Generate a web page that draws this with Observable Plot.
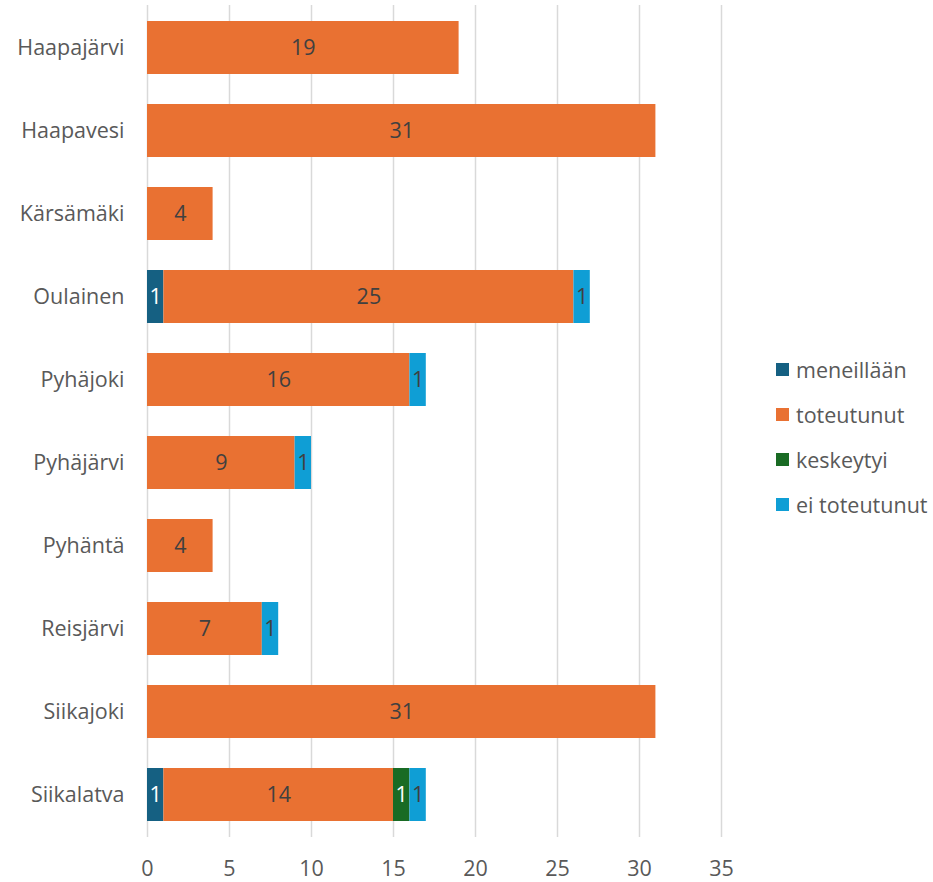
<!DOCTYPE html>
<html>
<head>
<meta charset="utf-8">
<script src="https://cdn.jsdelivr.net/npm/d3@7"></script>
<script src="https://cdn.jsdelivr.net/npm/@observablehq/plot@0.6"></script>
<style>
  html, body { margin: 0; padding: 0; background: #fff; }
  #wrap { position: relative; width: 933px; height: 882px; font-family: "Open Sans", sans-serif; }
  #legend { position: absolute; left: 776px; top: 347px; }
  .item { display: flex; align-items: center; height: 45px; font-size: 21.5px; color: #595959; white-space: nowrap; }
  .sw { width: 13px; height: 13px; margin-right: 7px; }
</style>
</head>
<body>
<div id="wrap"></div>
<script>
const cities = ["Haapajärvi", "Haapavesi", "Kärsämäki", "Oulainen", "Pyhäjoki", "Pyhäjärvi", "Pyhäntä", "Reisjärvi", "Siikajoki", "Siikalatva"];
const statuses = ["meneillään", "toteutunut", "keskeytyi", "ei toteutunut"];
const colors = ["#156082", "#E97132", "#196B24", "#0F9ED5"];
const labelColors = ["#ffffff", "#404040", "#ffffff", "#404040"];

const meneillaan   = [0, 0, 0, 1, 0, 0, 0, 0, 0, 1];
const toteutunut   = [19, 31, 4, 25, 16, 9, 4, 7, 31, 14];
const keskeytyi    = [0, 0, 0, 0, 0, 0, 0, 0, 0, 1];
const eiToteutunut = [0, 0, 0, 1, 1, 1, 0, 1, 0, 1];
const xTicks = [0, 5, 10, 15, 20, 25, 30, 35];

const series = [meneillaan, toteutunut, keskeytyi, eiToteutunut];
const rows = [];
cities.forEach((city, i) => {
  series.forEach((vals, s) => {
    rows.push({city, status: statuses[s], value: vals[i], label: labelColors[s]});
  });
});

const chart = Plot.plot({
  width: 933,
  height: 882,
  marginLeft: 147,
  marginRight: 212,
  marginTop: 5,
  marginBottom: 45,
  style: {fontFamily: "'Open Sans', sans-serif", fontSize: "21.5px", color: "#595959", background: "#fff"},
  x: {domain: [0, 35], ticks: xTicks, tickSize: 0, tickPadding: 23, label: null},
  y: {domain: cities, paddingInner: 0.36, paddingOuter: 0.18, tickSize: 0, tickPadding: 23, label: null},
  color: {domain: statuses, range: colors},
  marks: [
    Plot.ruleX(xTicks, {stroke: "#d9d9d9", strokeWidth: 1.5}),
    Plot.barX(rows, Plot.stackX({x: "value", y: "city", z: "status", fill: "status", order: null})),
    Plot.text(rows, Plot.stackX({
      filter: d => d.value > 0,
      x: "value", y: "city", z: "status", order: null,
      text: d => String(d.value),
      fill: "label",
      fontSize: 21.5
    }))
  ]
});

document.getElementById("wrap").appendChild(chart);

const legend = document.createElement("div");
legend.id = "legend";
statuses.forEach((s, i) => {
  const item = document.createElement("div");
  item.className = "item";
  const sw = document.createElement("span");
  sw.className = "sw";
  sw.style.background = colors[i];
  item.appendChild(sw);
  item.appendChild(document.createTextNode(s));
  legend.appendChild(item);
});
document.getElementById("wrap").appendChild(legend);
</script>
</body>
</html>
